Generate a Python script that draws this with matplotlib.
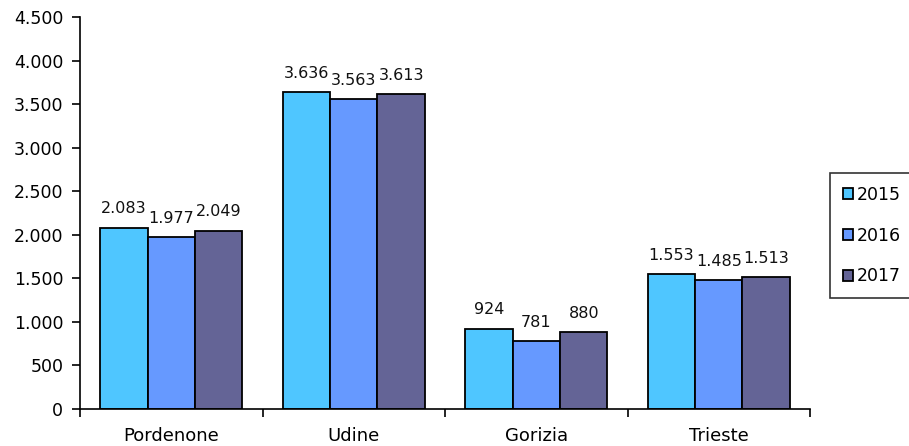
import numpy as np
import matplotlib.pyplot as plt
from matplotlib.ticker import FuncFormatter, FixedLocator

# Data
provinces = ['Pordenone', 'Udine', 'Gorizia', 'Trieste']
years = ['2015', '2016', '2017']
v2015 = [2083, 3636, 924, 1553]
v2016 = [1977, 3563, 781, 1485]
v2017 = [2049, 3613, 880, 1513]
colors = ['#4FC6FF', '#6699FF', '#646496']

fig = plt.figure(figsize=(9.09, 4.46), dpi=100)
ax = fig.add_axes([80 / 909, 1 - 409 / 446, 730 / 909, 392 / 446])

x = np.arange(len(provinces))
width = 0.26
series = [v2015, v2016, v2017]
for i, (vals, col, yr) in enumerate(zip(series, colors, years)):
    bars = ax.bar(x + (i - 1) * width, vals, width, color=col,
                  edgecolor='black', linewidth=1.3, label=yr)
    for b, v in zip(bars, vals):
        label = f'{v:,}'.replace(',', '.')
        ax.annotate(label, (b.get_x() + b.get_width() / 2, v),
                    xytext=(0, 8), textcoords='offset points',
                    ha='center', va='bottom', fontsize=11.5, color='#111111')

ax.set_xlim(-0.5, len(provinces) - 0.5)
ax.set_ylim(0, 4500)
ax.set_yticks(np.arange(0, 4501, 500))
ax.yaxis.set_major_formatter(FuncFormatter(lambda v, p: f'{int(v):,}'.replace(',', '.')))

# category labels centred, ticks at boundaries
ax.set_xticks(x)
ax.set_xticklabels(provinces, fontsize=13)
ax.tick_params(axis='x', which='major', length=0, pad=13)
ax.xaxis.set_minor_locator(FixedLocator(np.arange(-0.5, len(provinces), 1.0)))
ax.tick_params(axis='x', which='minor', length=6, width=1.2, direction='out')
ax.tick_params(axis='y', length=6, width=1.2, labelsize=12.5, pad=6)

for s in ['top', 'right']:
    ax.spines[s].set_visible(False)
for s in ['left', 'bottom']:
    ax.spines[s].set_linewidth(1.2)

leg = fig.legend(loc='upper left', bbox_to_anchor=(830 / 909, 1 - 173 / 446),
                 fontsize=12.5, frameon=True, fancybox=False, edgecolor='black',
                 handlelength=0.6, handleheight=0.6, handletextpad=0.2,
                 labelspacing=1.3, borderpad=0.75, borderaxespad=0)
leg.get_frame().set_linewidth(1.2)

fig.savefig('out.png', dpi=100)
